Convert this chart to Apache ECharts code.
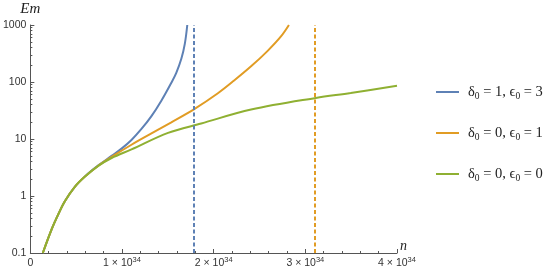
<!DOCTYPE html>
<html>
<head>
<meta charset="utf-8">
<script src="https://cdn.jsdelivr.net/npm/echarts@6/dist/echarts.min.js"></script>
<style>
html, body { margin: 0; padding: 0; background: #fff; }
#chart { width: 550px; height: 270px; }
</style>
</head>
<body>
<div id="chart"></div>
<script>
// n is in units of 10^34
const nBlue = [0.136, 0.234, 0.307, 0.378, 0.487, 0.596, 0.741, 0.886, 0.995, 1.103, 1.212, 1.321, 1.429, 1.538, 1.592, 1.647, 1.685, 1.712]
const emBlue = [0.1, 0.265, 0.486, 0.816, 1.46, 2.21, 3.44, 5.05, 6.78, 9.62, 15.0, 25.2, 47, 97, 145, 255, 466, 1000]

const nOrange = [0.136, 0.234, 0.307, 0.378, 0.487, 0.596, 0.741, 0.886, 1.103, 1.321, 1.538, 1.788, 2.046, 2.223, 2.408, 2.589, 2.734, 2.821]
const emOrange = [0.1, 0.265, 0.486, 0.816, 1.46, 2.19, 3.40, 4.85, 7.93, 12.5, 19.6, 33.4, 63.4, 106, 188, 352, 630, 1000]

const nGreen = [0.136, 0.234, 0.307, 0.378, 0.487, 0.596, 0.741, 0.886, 1.103, 1.502, 1.864, 2.408, 3.114, 3.495, 4.0]
const emGreen = [0.1, 0.265, 0.486, 0.816, 1.46, 2.19, 3.37, 4.64, 6.56, 12.8, 18.7, 32.8, 52.5, 64.1, 86]

// vertical dashed asymptotes
const poleBlue = 1.78
const poleOrange = 3.1

const xTicks = [0, 1, 2, 3, 4]
const yTicks = [0.1, 1, 10, 100, 1000]
const yMinorTicks = [0.2, 0.3, 0.4, 0.5, 0.6, 0.7, 0.8, 0.9, 2, 3, 4, 5, 6, 7, 8, 9,
  20, 30, 40, 50, 60, 70, 80, 90, 200, 300, 400, 500, 600, 700, 800, 900]

// legend params [delta0, eps0]
const params = [['1', '3'], ['0', '1'], ['0', '0']]
const colors = ['#5E81B5', '#E19C24', '#8FB032']

const names = params.map(p => 'δ0 = ' + p[0] + ', ϵ0 = ' + p[1])
const zip = (xs, ys) => xs.map((x, i) => [x, ys[i]])

const axisColor = '#555'
const labelColor = '#333'
const serif = 'Liberation Serif, DejaVu Serif, serif'

const chart = echarts.init(document.getElementById('chart'))

const dashed = (x, color) => ({
  silent: true,
  symbol: 'none',
  label: { show: false },
  lineStyle: { type: [4, 2.5], width: 2, color: color },
  data: [{ xAxis: x }]
})

const curve = (i, data) => ({
  name: names[i],
  type: 'line',
  data: data,
  smooth: 0.35,
  showSymbol: false,
  symbol: 'none',
  lineStyle: { width: 2, color: colors[i] },
  itemStyle: { color: colors[i] }
})

chart.setOption({
  animation: false,
  grid: { left: 28, right: 153, top: 25, bottom: 16 },
  legend: {
    data: names,
    orient: 'vertical',
    left: 436,
    top: 84,
    padding: 0,
    itemWidth: 23,
    itemHeight: 2,
    itemGap: 24,
    icon: 'rect',
    formatter: function (name) {
      const p = params[names.indexOf(name)]
      return '{t|δ}{s|0}{t| = ' + p[0] + ', ϵ}{s|0}{t| = ' + p[1] + '}'
    },
    textStyle: {
      padding: [0, 0, 0, 4],
      rich: {
        t: { fontFamily: serif, fontSize: 14.5, color: '#222', lineHeight: 18, verticalAlign: 'middle' },
        s: { fontFamily: serif, fontSize: 9.5, color: '#222', lineHeight: 18, verticalAlign: 'bottom', padding: [7, 0, 0, 0] }
      }
    }
  },
  xAxis: {
    type: 'value',
    min: 0,
    max: 4,
    interval: 1,
    name: 'n',
    nameLocation: 'end',
    nameGap: 3,
    nameTextStyle: { fontFamily: serif, fontStyle: 'italic', fontSize: 14, color: '#222', verticalAlign: 'bottom' },
    axisLine: { lineStyle: { color: axisColor, width: 1 } },
    axisTick: { inside: true, length: 4, lineStyle: { color: axisColor }, customValues: xTicks },
    minorTick: { show: true, splitNumber: 5, length: 2, lineStyle: { color: axisColor } },
    splitLine: { show: false },
    axisLabel: {
      customValues: xTicks,
      margin: 3,
      formatter: function (v) {
        if (v === 0) return '{t|0}'
        return '{t|' + v + ' × 10}{sup|34}'
      },
      rich: {
        t: { fontFamily: 'Liberation Sans', fontSize: 10.5, color: labelColor, lineHeight: 13, verticalAlign: 'bottom' },
        sup: { fontFamily: 'Liberation Sans', fontSize: 7.5, color: labelColor, lineHeight: 13, verticalAlign: 'top', padding: [0, 0, 6, 0] }
      }
    }
  },
  yAxis: [{
    type: 'log',
    logBase: 10,
    min: 0.1,
    max: 1000,
    name: 'Em',
    nameLocation: 'end',
    nameGap: 8,
    nameTextStyle: { fontFamily: serif, fontStyle: 'italic', fontSize: 15, color: '#222', align: 'center' },
    axisLine: { show: true, lineStyle: { color: axisColor, width: 1 } },
    axisTick: { show: true, inside: true, length: 4, lineStyle: { color: axisColor }, customValues: yTicks },
    splitLine: { show: false },
    axisLabel: {
      customValues: yTicks,
      margin: 4,
      fontFamily: 'Liberation Sans',
      fontSize: 10.5,
      color: labelColor,
      formatter: v => String(v)
    }
  }, {
    type: 'log',
    logBase: 10,
    min: 0.1,
    max: 1000,
    position: 'left',
    axisLine: { show: false },
    axisTick: { show: true, inside: true, length: 2, lineStyle: { color: axisColor }, customValues: yMinorTicks },
    axisLabel: { show: false },
    splitLine: { show: false }
  }],
  series: [
    Object.assign(curve(0, zip(nBlue, emBlue)), { markLine: dashed(poleBlue, colors[0]) }),
    Object.assign(curve(1, zip(nOrange, emOrange)), { markLine: dashed(poleOrange, colors[1]) }),
    curve(2, zip(nGreen, emGreen))
  ]
})

window.onresize = function () {
  chart.resize()
}
</script>
</body>
</html>
